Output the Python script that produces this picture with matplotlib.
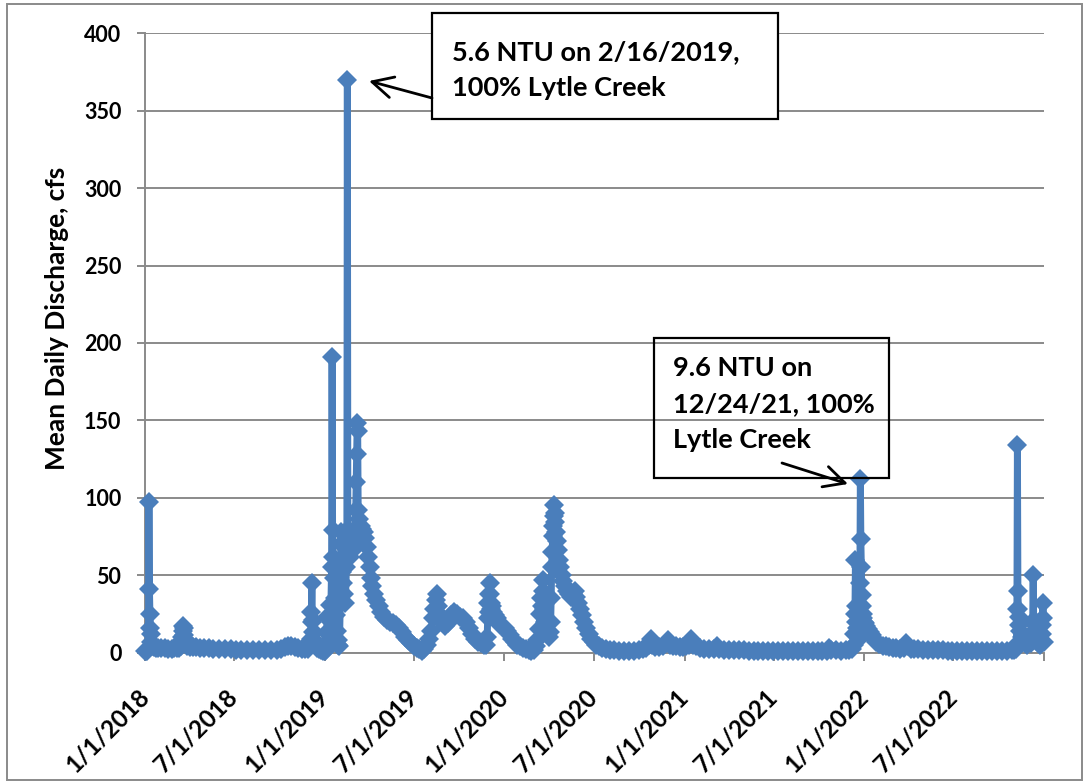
import numpy as np
import matplotlib
matplotlib.use("Agg")
import matplotlib.pyplot as plt
from matplotlib.patches import Rectangle, FancyArrowPatch

# Mean daily discharge (cfs), (month-day, value) pairs per calendar year
flow_2018 = [
    ("01-01", 1.0), ("01-04", 0.8), ("01-06", 1.0), ("01-08", 2.0), ("01-09", 97),
    ("01-10", 41), ("01-11", 25), ("01-12", 16), ("01-13", 12), ("01-14", 7),
    ("01-16", 4.5), ("01-19", 3.5), ("01-23", 3.0), ("01-28", 3.0), ("02-03", 2.8),
    ("02-10", 2.6), ("02-17", 2.5), ("02-24", 2.5), ("03-01", 2.8), ("03-07", 2.6),
    ("03-12", 3.0), ("03-15", 4), ("03-17", 10), ("03-19", 17), ("03-20", 14),
    ("03-21", 11), ("03-22", 16), ("03-23", 9), ("03-25", 6), ("03-28", 4.5),
    ("04-02", 3.8), ("04-08", 3.5), ("04-15", 3.3), ("04-22", 3.1), ("05-01", 2.9),
    ("05-10", 2.7), ("05-20", 2.5), ("06-01", 2.3), ("06-12", 2.1), ("06-24", 2.0),
    ("07-05", 1.8), ("07-16", 1.7), ("07-28", 1.6), ("08-09", 1.5), ("08-21", 1.5),
    ("09-02", 1.5), ("09-14", 1.6), ("09-26", 1.8), ("10-05", 2.5), ("10-12", 3.5),
    ("10-18", 4.0), ("10-25", 4.2), ("11-01", 3.8), ("11-08", 3.0), ("11-15", 2.2),
    ("11-22", 2.0), ("11-29", 2.5), ("12-02", 5), ("12-04", 9), ("12-05", 26),
    ("12-06", 45), ("12-07", 20), ("12-08", 13), ("12-09", 21), ("12-10", 13),
    ("12-11", 8), ("12-13", 5), ("12-16", 3), ("12-20", 2), ("12-25", 1.5),
    ("12-29", 1.2),
]

flow_2019 = [
    ("01-01", 1.2), ("01-03", 1.5), ("01-05", 4), ("01-06", 23), ("01-07", 12),
    ("01-09", 8), ("01-11", 15), ("01-12", 31), ("01-13", 20), ("01-15", 55),
    ("01-16", 191), ("01-17", 79), ("01-18", 62), ("01-19", 48), ("01-21", 35),
    ("01-23", 24), ("01-25", 14), ("01-27", 8), ("01-29", 5), ("01-31", 4),
    ("02-02", 40), ("02-03", 78), ("02-04", 70), ("02-05", 60), ("02-06", 52),
    ("02-08", 45), ("02-10", 38), ("02-12", 32), ("02-14", 55), ("02-15", 64),
    ("02-16", 370), ("02-17", 80), ("02-18", 72), ("02-19", 66), ("02-21", 62),
    ("02-23", 68), ("02-25", 72), ("02-27", 66), ("03-01", 70), ("03-03", 78),
    ("03-05", 92), ("03-06", 110), ("03-07", 128), ("03-08", 148), ("03-09", 143),
    ("03-10", 92), ("03-12", 86), ("03-15", 82), ("03-18", 80), ("03-21", 78),
    ("03-24", 74), ("03-27", 68), ("03-30", 62), ("04-02", 55), ("04-05", 48),
    ("04-08", 43), ("04-12", 38), ("04-16", 34), ("04-21", 30), ("04-26", 26),
    ("05-02", 23), ("05-08", 21), ("05-14", 20), ("05-20", 19), ("05-26", 18),
    ("06-01", 16), ("06-07", 13), ("06-13", 10), ("06-19", 8), ("06-25", 6),
    ("07-01", 4.5), ("07-07", 3), ("07-12", 2), ("07-17", 0.8), ("07-22", 2),
    ("07-27", 5), ("08-01", 9), ("08-05", 14), ("08-09", 22), ("08-12", 28),
    ("08-15", 34), ("08-17", 38), ("08-20", 30), ("08-24", 24), ("08-28", 20),
    ("09-03", 17), ("09-09", 19), ("09-15", 24), ("09-21", 26), ("09-27", 25),
    ("10-03", 23), ("10-09", 22), ("10-15", 20), ("10-21", 16), ("10-27", 12),
    ("11-02", 9), ("11-08", 7), ("11-14", 6), ("11-20", 5), ("11-25", 5),
    ("11-27", 10), ("11-28", 22), ("11-29", 32), ("11-30", 26), ("12-01", 38),
    ("12-02", 45), ("12-03", 38), ("12-04", 32), ("12-05", 28), ("12-07", 30),
    ("12-09", 26), ("12-12", 24), ("12-16", 22), ("12-20", 20), ("12-24", 18),
    ("12-28", 17),
]

flow_2020 = [
    ("01-02", 16), ("01-07", 14), ("01-12", 11), ("01-17", 9), ("01-22", 7),
    ("01-27", 5), ("02-01", 4), ("02-07", 3), ("02-13", 2), ("02-19", 1.5),
    ("02-25", 1.2), ("03-01", 1.5), ("03-05", 4), ("03-08", 8), ("03-11", 15),
    ("03-13", 25), ("03-15", 35), ("03-17", 30), ("03-19", 47), ("03-20", 40),
    ("03-21", 28), ("03-23", 20), ("03-25", 15), ("03-28", 12), ("03-31", 10),
    ("04-02", 13), ("04-04", 20), ("04-05", 35), ("04-06", 55), ("04-07", 65),
    ("04-08", 75), ("04-09", 82), ("04-10", 88), ("04-11", 95), ("04-12", 90),
    ("04-13", 84), ("04-14", 78), ("04-16", 72), ("04-18", 66), ("04-20", 60),
    ("04-23", 55), ("04-26", 50), ("04-29", 46), ("05-03", 43), ("05-07", 40),
    ("05-11", 38), ("05-15", 36), ("05-19", 38), ("05-23", 40), ("05-26", 36),
    ("05-29", 32), ("06-02", 28), ("06-06", 24), ("06-10", 20), ("06-15", 16),
    ("06-20", 12), ("06-25", 9), ("06-30", 7), ("07-06", 5), ("07-12", 4),
    ("07-18", 3), ("07-25", 2.2), ("08-02", 1.6), ("08-10", 1.3), ("08-20", 1.1),
    ("08-30", 1.0), ("09-10", 1.0), ("09-20", 1.1), ("09-30", 1.5), ("10-08", 2.2),
    ("10-15", 3), ("10-20", 5), ("10-24", 9), ("10-27", 5), ("11-02", 3.5),
    ("11-10", 3.5), ("11-18", 4), ("11-24", 6), ("11-28", 8), ("12-02", 5),
    ("12-08", 4), ("12-15", 4), ("12-22", 3.5), ("12-29", 3.5),
]

flow_2021 = [
    ("01-04", 4), ("01-10", 5), ("01-15", 9), ("01-18", 5), ("01-24", 4),
    ("02-01", 3), ("02-10", 2.5), ("02-20", 2.2), ("03-01", 2.0), ("03-08", 4),
    ("03-12", 2.0), ("03-22", 1.8), ("04-01", 1.6), ("04-11", 1.5), ("04-21", 1.4),
    ("05-01", 1.3), ("05-11", 1.2), ("05-21", 1.1), ("05-31", 1.0), ("06-10", 1.0),
    ("06-20", 0.9), ("06-30", 0.9), ("07-10", 0.8), ("07-20", 0.8), ("07-30", 0.8),
    ("08-09", 0.8), ("08-19", 0.8), ("08-29", 0.8), ("09-08", 0.8), ("09-18", 0.9),
    ("09-28", 0.9), ("10-08", 1.0), ("10-18", 1.2), ("10-22", 3.0), ("10-25", 1.5),
    ("11-04", 1.3), ("11-14", 1.2), ("11-24", 1.3), ("12-01", 1.5), ("12-08", 2),
    ("12-11", 5), ("12-12", 12), ("12-13", 25), ("12-14", 60), ("12-15", 30),
    ("12-16", 20), ("12-17", 16), ("12-19", 12), ("12-21", 9), ("12-22", 14),
    ("12-23", 45), ("12-24", 112), ("12-25", 73), ("12-26", 55), ("12-27", 37),
    ("12-28", 30), ("12-29", 25), ("12-30", 22), ("12-31", 20),
]

flow_2022 = [
    ("01-02", 19), ("01-05", 17), ("01-08", 15), ("01-12", 13), ("01-16", 11),
    ("01-20", 9), ("01-25", 7), ("01-31", 5.5), ("02-07", 4.5), ("02-14", 4),
    ("02-21", 3.5), ("02-28", 3), ("03-07", 2.7), ("03-14", 2.5), ("03-22", 3),
    ("03-27", 6), ("03-30", 4), ("04-05", 2.5), ("04-12", 2.2), ("04-20", 2.0),
    ("04-30", 1.8), ("05-10", 1.6), ("05-20", 1.5), ("05-30", 1.4), ("06-09", 1.3),
    ("06-19", 1.2), ("06-29", 1.1), ("07-09", 1.0), ("07-19", 1.0), ("07-29", 0.9),
    ("08-08", 0.9), ("08-18", 0.9), ("08-28", 0.9), ("09-07", 0.9), ("09-17", 1.0),
    ("09-27", 1.0), ("10-07", 1.1), ("10-17", 1.2), ("10-27", 1.3), ("11-01", 1.5),
    ("11-05", 2), ("11-06", 5), ("11-07", 28), ("11-08", 134), ("11-09", 40),
    ("11-10", 28), ("11-11", 23), ("11-12", 18), ("11-14", 14), ("11-17", 10),
    ("11-20", 8), ("11-24", 6), ("11-28", 5), ("12-02", 7), ("12-05", 6),
    ("12-08", 10), ("12-09", 19), ("12-10", 50), ("12-11", 21), ("12-12", 14),
    ("12-14", 10), ("12-17", 8), ("12-20", 6), ("12-24", 5), ("12-26", 8),
    ("12-27", 12), ("12-28", 18), ("12-29", 22), ("12-30", 32), ("12-31", 7),
]

tick_dates = ["2018-01-01", "2018-07-01", "2019-01-01", "2019-07-01", "2020-01-01",
              "2020-07-01", "2021-01-01", "2021-07-01", "2022-01-01", "2022-07-01",
              "2023-01-01"]
tick_labels = ["1/1/2018", "7/1/2018", "1/1/2019", "7/1/2019", "1/1/2020",
               "7/1/2020", "1/1/2021", "7/1/2021", "1/1/2022", "7/1/2022", ""]
y_ticks = [0, 50, 100, 150, 200, 250, 300, 350, 400]

note_2019 = "5.6 NTU on 2/16/2019,\n100% Lytle Creek"
note_2021 = "9.6 NTU on\n12/24/21, 100%\nLytle Creek"
y_title = "Mean Daily Discharge, cfs"

yearly = {2018: flow_2018, 2019: flow_2019, 2020: flow_2020,
          2021: flow_2021, 2022: flow_2022}
dates, values = [], []
for year, pairs in yearly.items():
    for md, q in pairs:
        dates.append(np.datetime64(f"{year}-{md}"))
        values.append(q)
dates = np.array(dates, dtype="datetime64[D]")
values = np.array(values, dtype=float)

plt.rcParams["font.family"] = ["Lato", "DejaVu Sans"]
plt.rcParams["font.weight"] = "bold"

W, H = 1089, 783
fig = plt.figure(figsize=(W / 100, H / 100), dpi=100)
fig.patch.set_facecolor("white")


def fx(px):
    return px / W


def fy(py):
    return 1 - py / H


left, right, top, bottom = 145, 1044, 33.3, 652.5
ax = fig.add_axes([fx(left), fy(bottom), fx(right - left), (bottom - top) / H])

blue = "#4A7EBB"
grid_grey = "#8a8a8a"

ax.plot(dates, values, color=blue, lw=5.0, marker="D", ms=10.5,
        mec=blue, mfc=blue, mew=0, clip_on=False, zorder=3)

ax.set_xlim(np.datetime64("2018-01-01"), np.datetime64("2023-01-01"))
ax.set_ylim(0, 400)
ax.set_yticks(y_ticks)
ax.set_xticks([np.datetime64(d) for d in tick_dates])
ax.set_xticklabels(tick_labels, rotation=45, ha="right", va="center",
                   rotation_mode="anchor")

ax.yaxis.grid(True, color=grid_grey, lw=1.4)
ax.set_axisbelow(True)
for side in ("top", "right"):
    ax.spines[side].set_visible(False)
for side in ("left", "bottom"):
    ax.spines[side].set_color(grid_grey)
    ax.spines[side].set_linewidth(1.4)

ax.tick_params(axis="both", direction="out", length=6, width=1.4,
               color=grid_grey, labelcolor="black", labelsize=15.5)
ax.tick_params(axis="y", pad=11)
ax.tick_params(axis="x", pad=23, labelsize=17.5)
for lab in ax.get_xticklabels() + ax.get_yticklabels():
    lab.set_fontweight("bold")

fig.text(fx(57), fy(318), y_title, rotation=90, ha="center", va="center",
         fontsize=19, fontweight="bold")

# outer chart frame
fig.patches.append(Rectangle((fx(7), fy(780)), fx(1082 - 7), (780 - 4) / H,
                             transform=fig.transFigure, fill=False,
                             edgecolor=grid_grey, lw=1.4, zorder=0))


# callout boxes
def callout(x0, y0, x1, y1, text, tx, ty, spacing, filled):
    fig.patches.append(Rectangle((fx(x0), fy(y1)), fx(x1 - x0), (y1 - y0) / H,
                                 transform=fig.transFigure,
                                 facecolor="white" if filled else "none",
                                 edgecolor="black", lw=1.6, zorder=5))
    fig.text(fx(tx), fy(ty), text, ha="left", va="top", fontsize=19.5,
             fontweight="bold", linespacing=spacing, zorder=6)


callout(432, 13, 778, 119, note_2019, 452, 40, 1.58, True)
callout(654, 338, 889, 478, note_2021, 673, 356, 1.6, False)

arrow_kw = dict(arrowstyle="->,head_length=0.75,head_width=0.38", color="black",
                lw=2.0, mutation_scale=20, shrinkA=0, shrinkB=0, zorder=7)
fig.add_artist(FancyArrowPatch((fx(432), fy(98)), (fx(369), fy(81)),
                               transform=fig.transFigure, **arrow_kw))
fig.add_artist(FancyArrowPatch((fx(782), fy(463)), (fx(848), fy(484)),
                               transform=fig.transFigure, **arrow_kw))

fig.savefig("out.png", dpi=100, facecolor="white")
